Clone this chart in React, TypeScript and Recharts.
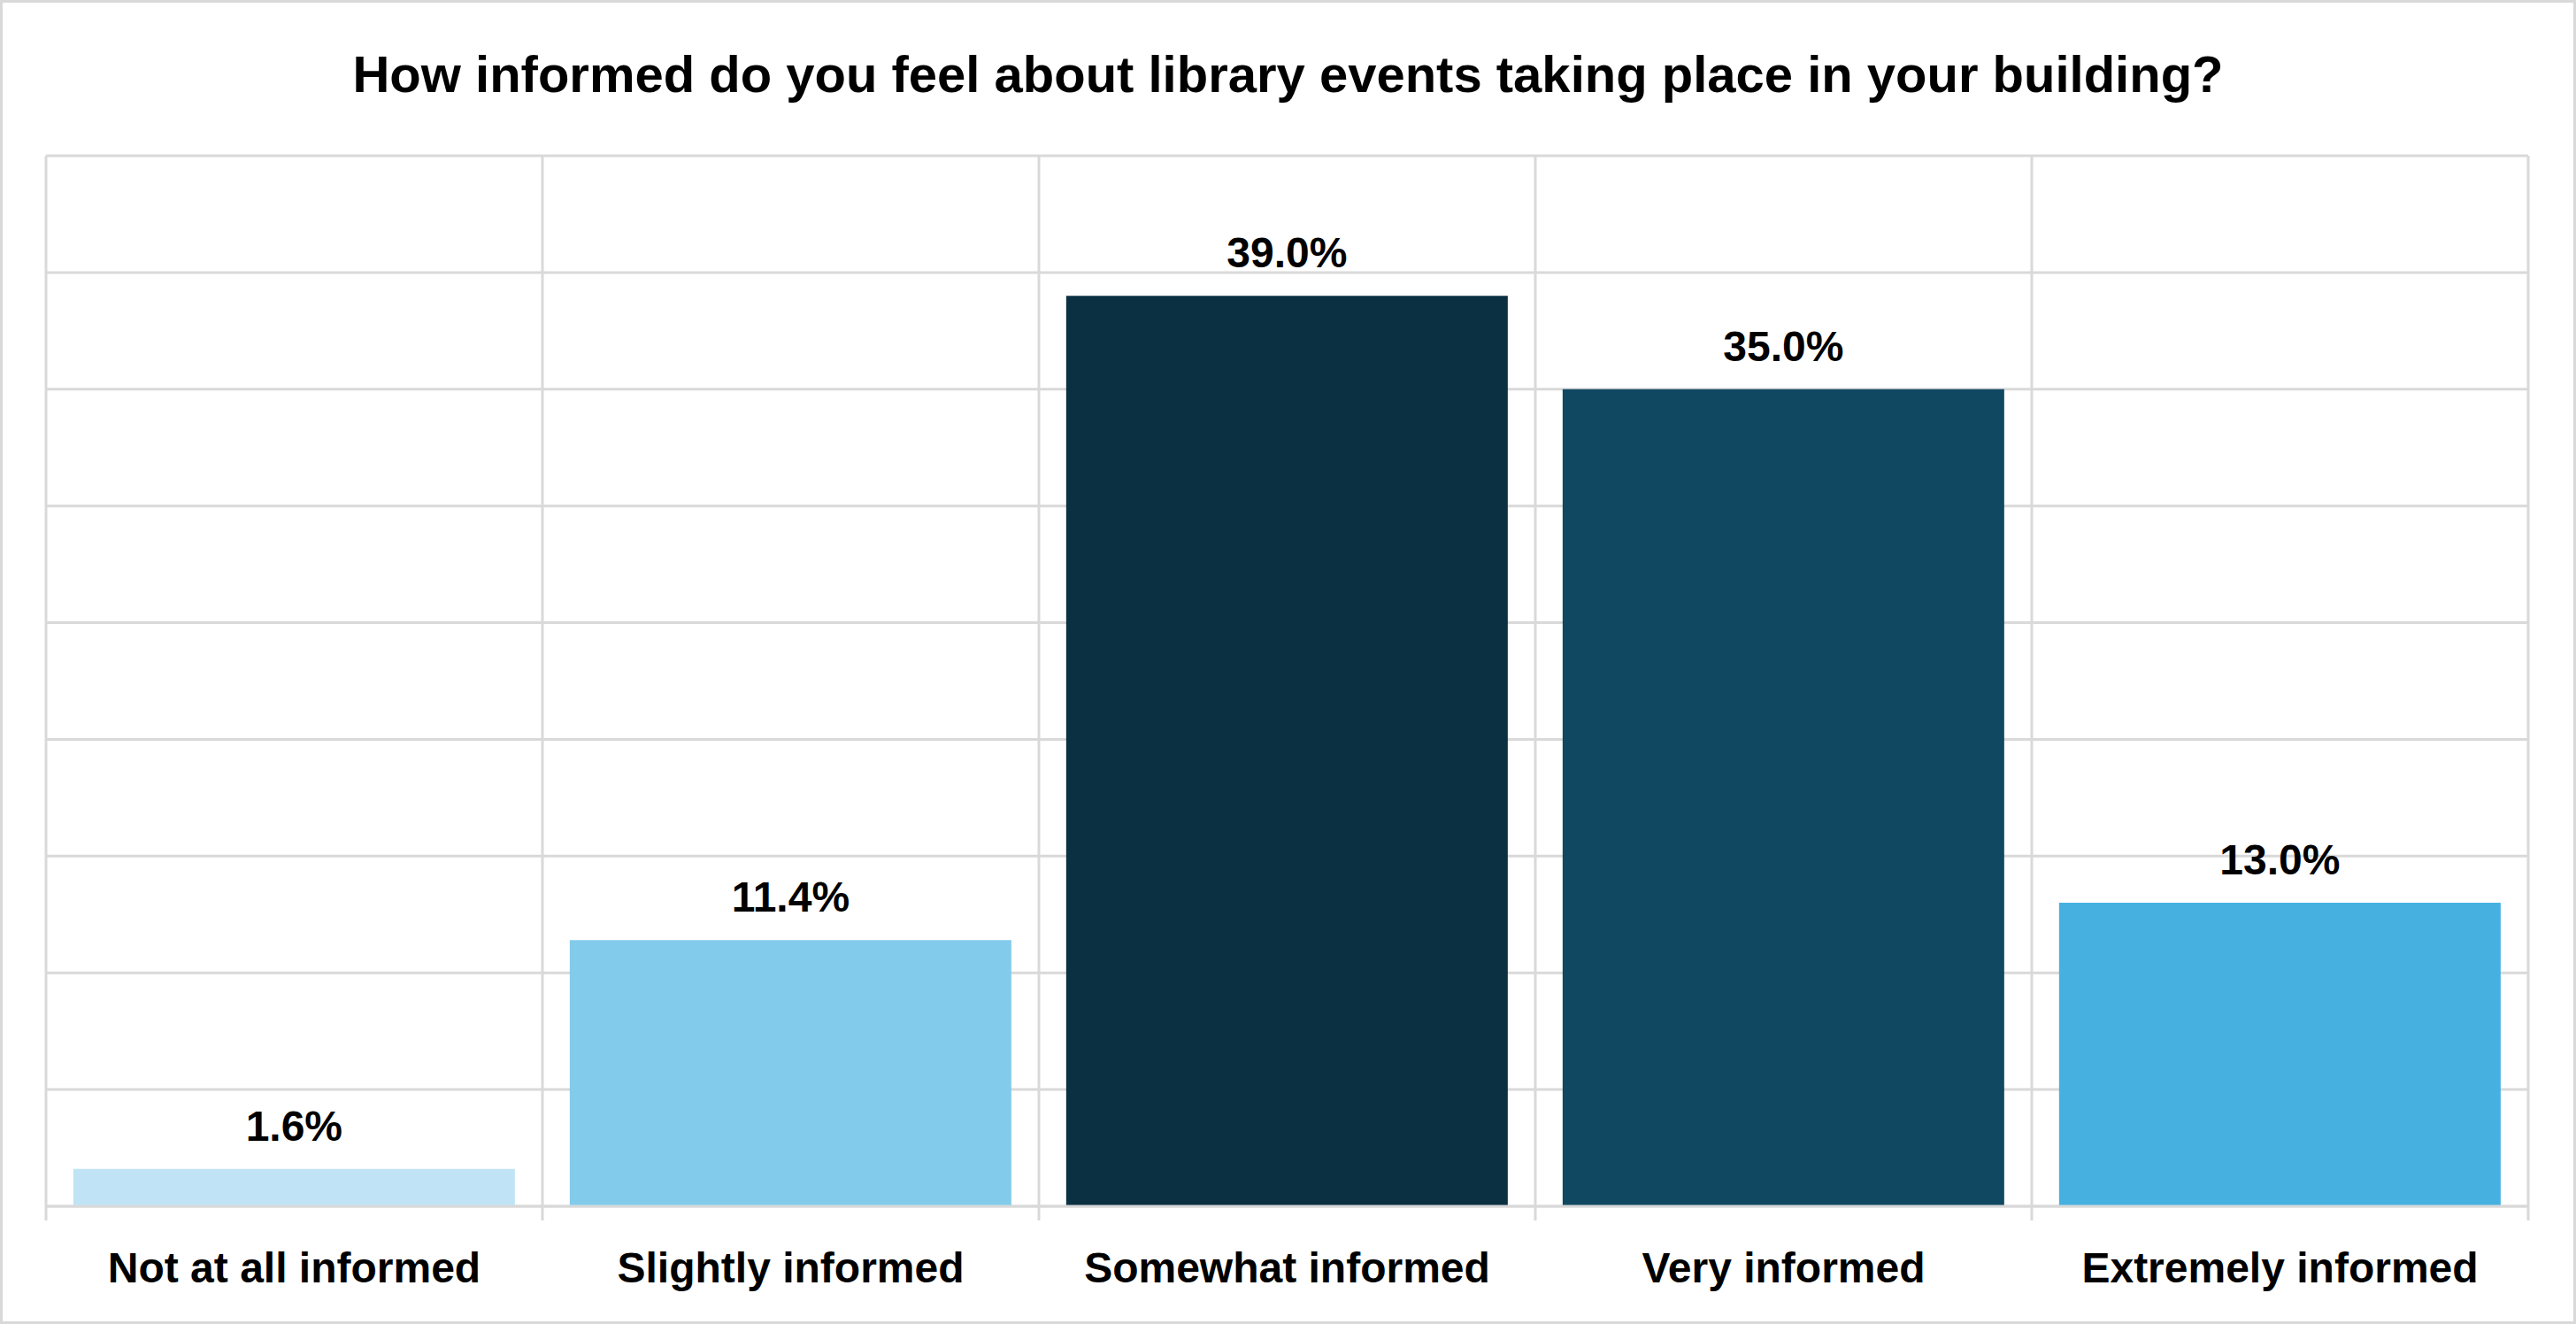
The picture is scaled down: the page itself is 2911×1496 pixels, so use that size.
import { BarChart, Bar, XAxis, YAxis, CartesianGrid, Cell, LabelList } from 'recharts'

const categories = [
    'Not at all informed',
    'Slightly informed',
    'Somewhat informed',
    'Very informed',
    'Extremely informed',
]
const percents = [1.6, 11.4, 39.0, 35.0, 13.0]
const barColors = ['#C0E4F5', '#83CBEB', '#0B3041', '#104862', '#46B1E1']
const yTicks = [0, 5, 10, 15, 20, 25, 30, 35, 40, 45]

const data = categories.map((name, i) => ({ name, value: percents[i] }))

const GRID = '#d9d9d9'
const FONT = '"Liberation Sans", Arial, sans-serif'
const TICK_MARGIN = 52
const TICK_LEN = 16

// category tick: label plus the short divider marks below the axis
const CategoryTick = (props: any) => {
    const { x, y, payload, index, visibleTicksCount } = props
    const count = visibleTicksCount || categories.length
    const band = props.bandSize || 0
    const axisY = y - TICK_MARGIN
    const half = band / 2
    return (
        <g>
            <line x1={x - half} x2={x - half} y1={axisY} y2={axisY + TICK_LEN} stroke={GRID} strokeWidth={3} />
            {index === count - 1 && (
                <line x1={x + half} x2={x + half} y1={axisY} y2={axisY + TICK_LEN} stroke={GRID} strokeWidth={3} />
            )}
            <text
                x={x}
                y={y}
                dy="0.71em"
                textAnchor="middle"
                fontSize={48}
                fontWeight={700}
                fill="#000"
                fontFamily={FONT}
            >
                {payload.value}
            </text>
        </g>
    )
}

export default function App() {
    const margin = { top: 173, right: 51, left: 49, bottom: 29 }
    const chartW = 2905
    const bandSize = (chartW - margin.left - margin.right) / categories.length
    return (
        <div
            style={{
                position: 'absolute',
                left: 0,
                top: 0,
                width: 2911,
                height: 1496,
                boxSizing: 'border-box',
                border: `3px solid ${GRID}`,
                background: '#fff',
                fontFamily: FONT,
            }}
        >
            <div
                style={{
                    position: 'absolute',
                    left: 0,
                    right: 0,
                    top: 46,
                    textAlign: 'center',
                    fontSize: 58,
                    fontWeight: 700,
                    color: '#000',
                    lineHeight: '70px',
                }}
            >
                How informed do you feel about library events taking place in your building?
            </div>
            <BarChart
                width={chartW}
                height={1490}
                data={data}
                margin={margin}
                barCategoryGap="5.5%"
            >
                <CartesianGrid
                    stroke={GRID}
                    strokeWidth={3}
                    verticalCoordinatesGenerator={({ offset }: any) =>
                        [0, 1, 2, 3, 4, 5].map((i) => offset.left + i * (offset.width / categories.length))
                    }
                />
                <XAxis
                    dataKey="name"
                    height={101}
                    axisLine={{ stroke: GRID, strokeWidth: 3 }}
                    tickLine={false}
                    tickSize={0}
                    tickMargin={TICK_MARGIN}
                    interval={0}
                    tick={<CategoryTick bandSize={bandSize} />}
                />
                <YAxis hide domain={[0, 45]} ticks={yTicks} />
                <Bar dataKey="value" isAnimationActive={false}>
                    {data.map((d, i) => (
                        <Cell key={d.name} fill={barColors[i]} />
                    ))}
                    <LabelList
                        dataKey="value"
                        position="top"
                        offset={32}
                        formatter={(v: any) => `${Number(v).toFixed(1)}%`}
                        style={{ fontSize: 48, fontWeight: 700, fill: '#000', fontFamily: FONT }}
                    />
                </Bar>
            </BarChart>
        </div>
    )
}
